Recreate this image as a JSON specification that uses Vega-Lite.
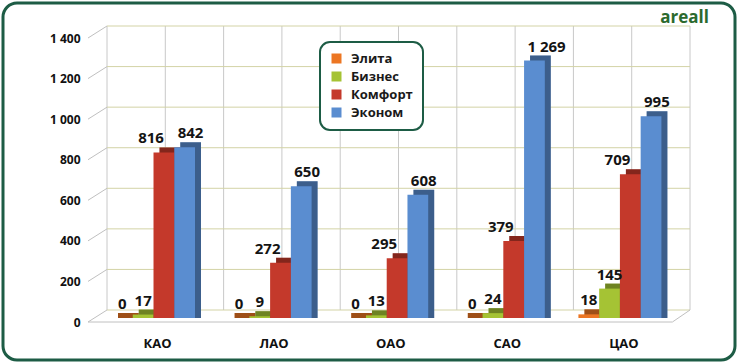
{
  "$schema": "https://vega.github.io/schema/vega-lite/v6.json",
  "width": 732,
  "height": 357,
  "autosize": {"type": "none"},
  "padding": {"left": 3, "top": 3, "right": 4, "bottom": 4},
  "background": "white",
  "title": {
    "text": "areall",
    "anchor": "end",
    "frame": "group",
    "orient": "top",
    "offset": -24,
    "dx": -26,
    "font": "Open Sans",
    "fontSize": 17,
    "fontWeight": "bold",
    "color": "#2b6a2e"
  },
  "datasets": {
    "sales": [
      {"cat": "КАО", "s": "Элита", "v": 0},
      {"cat": "КАО", "s": "Бизнес", "v": 17},
      {"cat": "КАО", "s": "Комфорт", "v": 816},
      {"cat": "КАО", "s": "Эконом", "v": 842},
      {"cat": "ЛАО", "s": "Элита", "v": 0},
      {"cat": "ЛАО", "s": "Бизнес", "v": 9},
      {"cat": "ЛАО", "s": "Комфорт", "v": 272},
      {"cat": "ЛАО", "s": "Эконом", "v": 650},
      {"cat": "ОАО", "s": "Элита", "v": 0},
      {"cat": "ОАО", "s": "Бизнес", "v": 13},
      {"cat": "ОАО", "s": "Комфорт", "v": 295},
      {"cat": "ОАО", "s": "Эконом", "v": 608},
      {"cat": "САО", "s": "Элита", "v": 0},
      {"cat": "САО", "s": "Бизнес", "v": 24},
      {"cat": "САО", "s": "Комфорт", "v": 379},
      {"cat": "САО", "s": "Эконом", "v": 1269},
      {"cat": "ЦАО", "s": "Элита", "v": 18},
      {"cat": "ЦАО", "s": "Бизнес", "v": 145},
      {"cat": "ЦАО", "s": "Комфорт", "v": 709},
      {"cat": "ЦАО", "s": "Эконом", "v": 995}
    ],
    "ticks": [{"v": 0}, {"v": 200}, {"v": 400}, {"v": 600}, {"v": 800}, {"v": 1000}, {"v": 1200}, {"v": 1400}],
    "cats": [{"cat": "КАО"}, {"cat": "ЛАО"}, {"cat": "ОАО"}, {"cat": "САО"}, {"cat": "ЦАО"}],
    "one": [{}]
  },
  "config": {
    "locale": {"number": {"decimal": ",", "thousands": " ", "grouping": [3], "currency": ["", ""]}},
    "view": {"stroke": "#1d5c45", "strokeWidth": 3, "cornerRadius": 14, "fill": "white"},
    "font": "Open Sans",
    "axisY": {"offset": -85, "ticks": false, "domain": false, "grid": false, "labelPadding": 8, "labelFont": "Open Sans", "labelFontSize": 12, "labelFontWeight": "bold", "labelColor": "#111111", "format": ",d"},
    "axisX": {"offset": -38, "ticks": false, "domain": false, "grid": false, "labelPadding": 15, "labelOffset": 4, "labelFont": "Open Sans", "labelFontSize": 13, "labelFontWeight": "bold", "labelColor": "#111111", "labelAngle": 0},
    "legend": {"fillColor": "white", "strokeColor": "#1d5c45", "strokeWidth": 2, "cornerRadius": 10, "padding": 10, "symbolType": "square", "symbolSize": 100, "symbolStrokeWidth": 0, "labelFont": "Open Sans", "labelFontSize": 13, "labelFontWeight": "bold", "labelColor": "#1a1a1a", "rowPadding": 4, "labelOffset": 8}
  },
  "resolve": {"scale": {"x": "independent"}},
  "layer": [
    {
      "layer": [
        {
          "data": {"name": "cats"},
          "mark": {"type": "rule", "color": "#c8c8c8", "strokeWidth": 1, "xOffset": 11.8, "yOffset": -12, "y2Offset": -12},
          "encoding": {
            "x": {"field": "cat", "type": "nominal", "bandPosition": 0.5, "title": null, "axis": null,
                  "scale": {"domain": ["КАО", "ЛАО", "ОАО", "САО", "ЦАО"], "paddingInner": 0.2882, "paddingOuter": 0.783, "align": 0.597}},
            "y": {"datum": 0, "type": "quantitative",
                  "scale": {"domain": [-187.3, 1572.6], "nice": false, "zero": false},
                  "axis": {"values": [0, 200, 400, 600, 800, 1000, 1200, 1400], "title": null}},
            "y2": {"datum": 1400}
          }
        },
        {
          "data": {"name": "cats"},
          "mark": {"type": "rule", "color": "#c8c8c8", "strokeWidth": 1, "xOffset": -5, "yOffset": -12, "y2Offset": -12},
          "encoding": {
            "x": {"field": "cat", "type": "nominal", "bandPosition": 0, "title": null, "axis": null},
            "y": {"datum": 0, "type": "quantitative"},
            "y2": {"datum": 1400}
          }
        },
        {
          "data": {"name": "one"},
          "mark": {"type": "rule", "color": "#c8c8c8", "strokeWidth": 1, "xOffset": 28.6, "yOffset": -12, "y2Offset": -12},
          "encoding": {
            "x": {"datum": "ЦАО", "type": "nominal", "bandPosition": 1, "axis": null},
            "y": {"datum": 0, "type": "quantitative"},
            "y2": {"datum": 1400}
          }
        },
        {
          "data": {"name": "ticks"},
          "mark": {"type": "rule", "color": "#d3d3a6", "strokeWidth": 1, "xOffset": -5, "x2Offset": 28.6, "yOffset": -12},
          "encoding": {
            "x": {"datum": "КАО", "type": "nominal", "bandPosition": 0, "axis": null},
            "x2": {"datum": "ЦАО", "bandPosition": 1},
            "y": {"field": "v", "type": "quantitative", "title": null}
          }
        },
        {
          "data": {"name": "ticks"},
          "mark": {"type": "rule", "color": "#c0c0c0", "strokeWidth": 1, "xOffset": -24, "x2Offset": -5, "y2Offset": -12},
          "encoding": {
            "x": {"datum": "КАО", "type": "nominal", "bandPosition": 0, "axis": null},
            "x2": {"datum": "КАО", "bandPosition": 0},
            "y": {"field": "v", "type": "quantitative", "title": null},
            "y2": {"field": "v"}
          }
        },
        {
          "data": {"name": "one"},
          "mark": {"type": "rule", "color": "#c0c0c0", "strokeWidth": 1, "xOffset": -24, "x2Offset": 11},
          "encoding": {
            "x": {"datum": "КАО", "type": "nominal", "bandPosition": 0, "axis": null},
            "x2": {"datum": "ЦАО", "bandPosition": 1},
            "y": {"datum": 0, "type": "quantitative"}
          }
        },
        {
          "data": {"name": "one"},
          "mark": {"type": "rule", "color": "#c0c0c0", "strokeWidth": 1, "xOffset": 11, "x2Offset": 28.6, "y2Offset": -12},
          "encoding": {
            "x": {"datum": "ЦАО", "type": "nominal", "bandPosition": 1, "axis": null},
            "x2": {"datum": "ЦАО", "bandPosition": 1},
            "y": {"datum": 0, "type": "quantitative"},
            "y2": {"datum": 0}
          }
        }
      ]
    },
    {
      "data": {"name": "sales"},
      "layer": [
        {
          "mark": {"type": "bar", "yOffset": -9, "y2Offset": -4},
          "encoding": {
            "x": {"field": "cat", "type": "nominal", "title": null, "axis": null,
                  "scale": {"domain": ["КАО", "ЛАО", "ОАО", "САО", "ЦАО"], "paddingInner": 0.2882, "paddingOuter": 0.783, "align": 0.6298}},
            "xOffset": {"field": "s", "type": "nominal", "sort": ["Элита", "Бизнес", "Комфорт", "Эконом"]},
            "y": {"field": "v", "type": "quantitative", "title": null},
            "y2": {"datum": 0},
            "color": {"field": "s", "type": "nominal"}
          }
        },
        {
          "mark": {"type": "bar", "yOffset": -9, "y2Offset": -4, "color": "#000000", "opacity": 0.33},
          "encoding": {
            "x": {"field": "cat", "type": "nominal", "title": null, "axis": null},
            "xOffset": {"field": "s", "type": "nominal", "sort": ["Элита", "Бизнес", "Комфорт", "Эконом"]},
            "y": {"field": "v", "type": "quantitative", "title": null},
            "y2": {"datum": 0}
          }
        }
      ]
    },
    {
      "data": {"name": "sales"},
      "layer": [
        {
          "mark": {"type": "bar", "yOffset": -4, "y2Offset": -4},
          "encoding": {
            "x": {"field": "cat", "type": "nominal", "title": null,
                  "scale": {"domain": ["КАО", "ЛАО", "ОАО", "САО", "ЦАО"], "paddingInner": 0.2882, "paddingOuter": 0.783, "align": 0.597}},
            "xOffset": {"field": "s", "type": "nominal", "sort": ["Элита", "Бизнес", "Комфорт", "Эконом"]},
            "y": {"field": "v", "type": "quantitative", "title": null},
            "y2": {"datum": 0},
            "color": {"field": "s", "type": "nominal",
                      "scale": {"domain": ["Элита", "Бизнес", "Комфорт", "Эконом"], "range": ["#ec7623", "#a5c334", "#c4392b", "#5a8dd0"]},
                      "legend": {"orient": "none", "legendX": 317, "legendY": 39, "title": null}}
          }
        },
        {
          "transform": [{"filter": "datum.s == 'Элита' || datum.s == 'Бизнес'"}],
          "mark": {"type": "text", "font": "Open Sans", "fontSize": 15, "fontWeight": "bold", "color": "#141414", "baseline": "alphabetic", "align": "center", "dy": -13},
          "encoding": {
            "x": {"field": "cat", "type": "nominal", "title": null},
            "xOffset": {"field": "s", "type": "nominal", "sort": ["Элита", "Бизнес", "Комфорт", "Эконом"]},
            "y": {"field": "v", "type": "quantitative", "title": null},
            "text": {"field": "v", "type": "quantitative", "format": ",d"}
          }
        },
        {
          "transform": [{"filter": "datum.s == 'Комфорт'"}],
          "mark": {"type": "text", "font": "Open Sans", "fontSize": 15, "fontWeight": "bold", "color": "#141414", "baseline": "alphabetic", "align": "right", "dx": 0, "dy": -13},
          "encoding": {
            "x": {"field": "cat", "type": "nominal", "title": null},
            "xOffset": {"field": "s", "type": "nominal", "sort": ["Элита", "Бизнес", "Комфорт", "Эконом"]},
            "y": {"field": "v", "type": "quantitative", "title": null},
            "text": {"field": "v", "type": "quantitative", "format": ",d"}
          }
        },
        {
          "transform": [{"filter": "datum.s == 'Эконом'"}],
          "mark": {"type": "text", "font": "Open Sans", "fontSize": 15, "fontWeight": "bold", "color": "#141414", "baseline": "alphabetic", "align": "left", "dx": -7, "dy": -13},
          "encoding": {
            "x": {"field": "cat", "type": "nominal", "title": null},
            "xOffset": {"field": "s", "type": "nominal", "sort": ["Элита", "Бизнес", "Комфорт", "Эконом"]},
            "y": {"field": "v", "type": "quantitative", "title": null},
            "text": {"field": "v", "type": "quantitative", "format": ",d"}
          }
        }
      ]
    }
  ]
}
